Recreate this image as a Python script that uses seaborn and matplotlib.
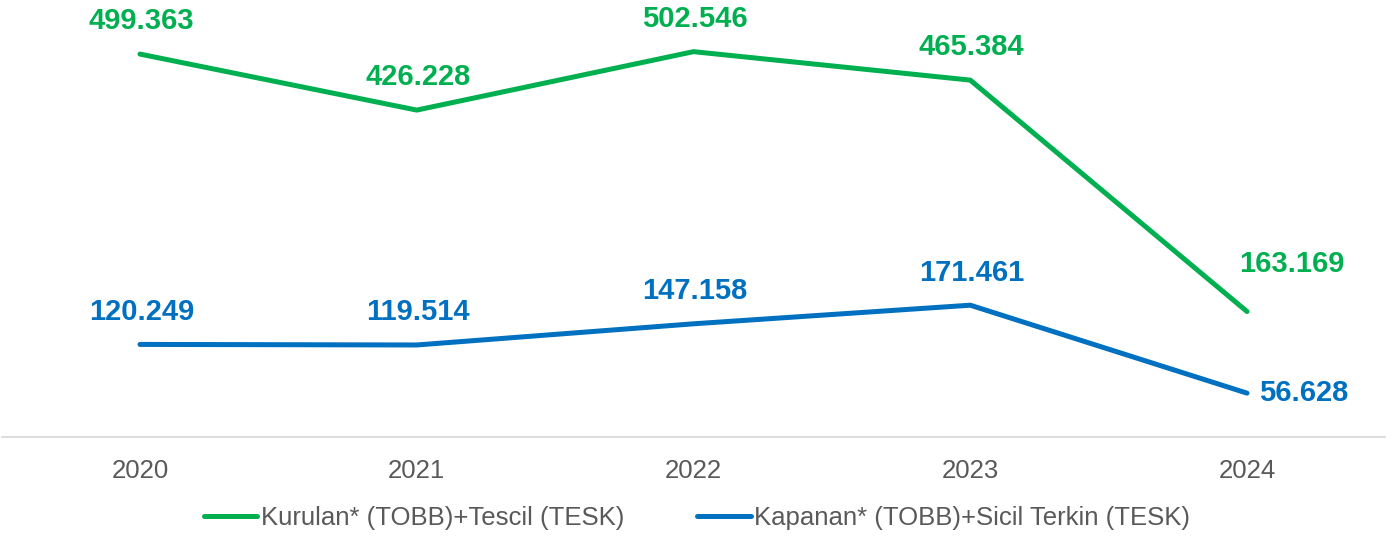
import pandas as pd
import seaborn as sns
import matplotlib.pyplot as plt

# data
years = [2020, 2021, 2022, 2023, 2024]
kurulan = [499363, 426228, 502546, 465384, 163169]
kapanan = [120249, 119514, 147158, 171461, 56628]
series_names = ['Kurulan* (TOBB)+Tescil (TESK)', 'Kapanan* (TOBB)+Sicil Terkin (TESK)']
colors = ['#00B050', '#0070C0']

df = pd.DataFrame({'Yıl': years * 2,
                   'Değer': kurulan + kapanan,
                   'Seri': [series_names[0]] * 5 + [series_names[1]] * 5})

sns.set_style('white')
plt.rcParams['font.family'] = ['Liberation Sans', 'DejaVu Sans']

fig = plt.figure(figsize=(13.94, 5.36), dpi=100)
ax = fig.add_axes([1.6 / 1394, (536 - 436.5) / 536, 1383.8 / 1394, 436.5 / 536])

sns.lineplot(data=df, x='Yıl', y='Değer', hue='Seri', palette=colors, linewidth=3.6,
             ax=ax, legend=False, solid_capstyle='round')

ax.set_xlim(2019.5, 2024.5)
ax.set_ylim(0, 570000)
ax.set_xticks(years)
ax.set_xticklabels([str(y) for y in years])
ax.set_yticks([])
ax.set_xlabel(None)
ax.set_ylabel(None)
ax.tick_params(axis='x', length=0, pad=16, labelsize=18.5, labelcolor='#595959')

for s in ['top', 'right', 'left']:
    ax.spines[s].set_visible(False)
ax.spines['bottom'].set_color('#D9D9D9')
ax.spines['bottom'].set_linewidth(1.3)


def fmt(v):
    return f'{v:,}'.replace(',', '.')


# data labels
for vals, col in zip([kurulan, kapanan], colors):
    for i, (x, v) in enumerate(zip(years, vals)):
        if i < 4:
            ax.annotate(fmt(v), (x, v), xytext=(1, 23.5), textcoords='offset points',
                        ha='center', va='center', fontsize=21, fontweight='bold', color=col)
for x, v, off, ha in [(years[4], kurulan[4], (32, 34.5), 'center'),
                      (years[4], kapanan[4], (9, 0), 'left')]:
    col = colors[0] if v == kurulan[4] else colors[1]
    ax.annotate(fmt(v), (x, v), xytext=off, textcoords='offset points',
                ha=ha, va='center', fontsize=21, fontweight='bold', color=col)

handles = [plt.Line2D([], [], color=c, linewidth=3.6, solid_capstyle='round') for c in colors]
leg = fig.legend(handles, series_names, loc='center', bbox_to_anchor=(0.5, 18 / 536), ncol=2,
                 frameon=False, fontsize=18.5, handlelength=2.1, handletextpad=0.15,
                 columnspacing=2.8, labelcolor='#595959')

fig.savefig('out.png', dpi=100)
